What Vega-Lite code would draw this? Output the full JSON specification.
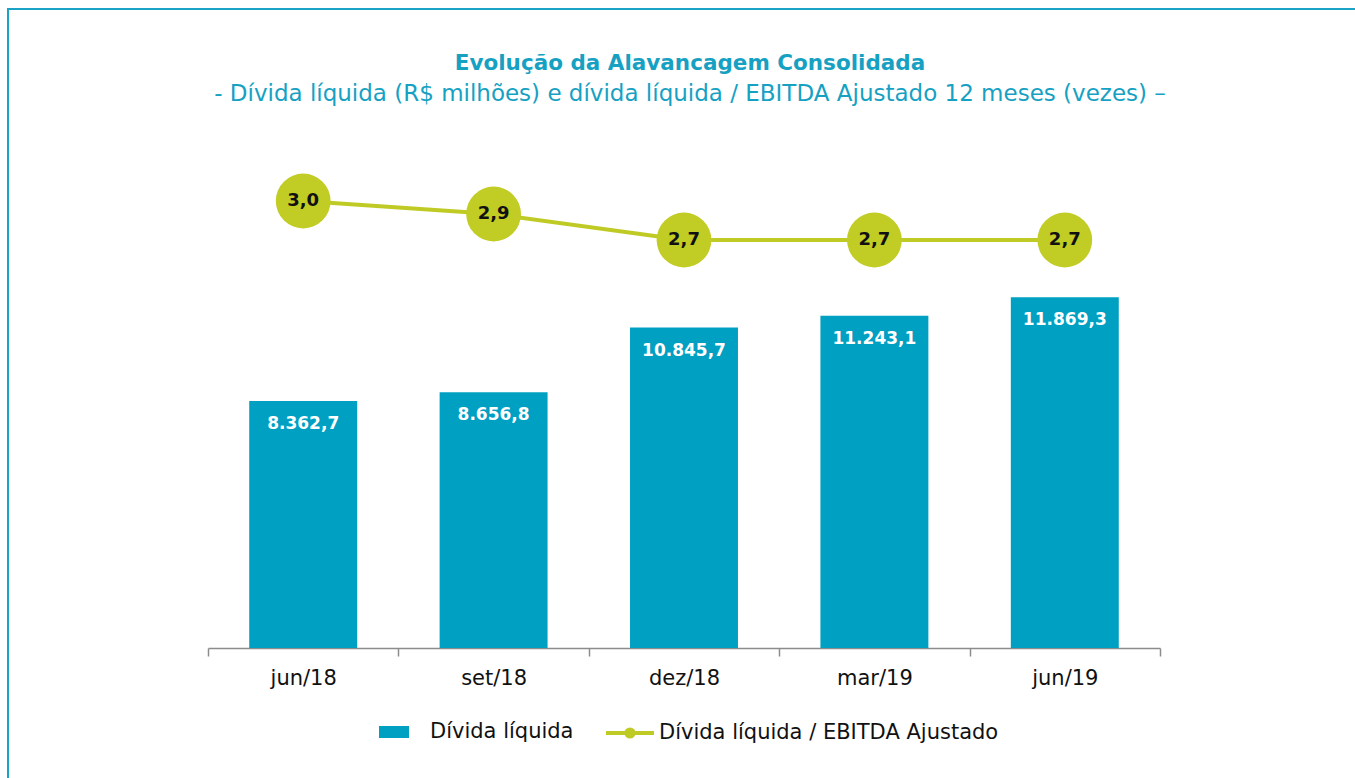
{
  "$schema": "https://vega.github.io/schema/vega-lite/v6.json",
  "autosize": {"type": "none"},
  "padding": {"left": 8, "top": 9, "right": 0, "bottom": 0},
  "width": 1350,
  "height": 772,
  "background": "white",
  "config": {
    "view": {"stroke": "#1AA3C4", "strokeWidth": 2},
    "locale": {"number": {"decimal": ",", "thousands": ".", "grouping": [3], "currency": ["R$", ""]}},
    "font": "DejaVu Sans"
  },
  "title": {
    "text": "Evolução da Alavancagem Consolidada",
    "subtitle": "- Dívida líquida (R$ milhões) e dívida líquida / EBITDA Ajustado 12 meses (vezes) –",
    "anchor": "middle",
    "frame": "group",
    "dx": 7,
    "offset": -97,
    "font": "DejaVu Sans",
    "fontSize": 21.5,
    "fontWeight": "bold",
    "color": "#16A1C3",
    "subtitleFont": "DejaVu Sans",
    "subtitleFontSize": 23,
    "subtitleColor": "#16A1C3",
    "subtitlePadding": 9
  },
  "data": {
    "values": [
      {"periodo": "jun/18", "divida": 8362.7, "alav": 3.0},
      {"periodo": "set/18", "divida": 8656.8, "alav": 2.9},
      {"periodo": "dez/18", "divida": 10845.7, "alav": 2.7},
      {"periodo": "mar/19", "divida": 11243.1, "alav": 2.7},
      {"periodo": "jun/19", "divida": 11869.3, "alav": 2.7}
    ]
  },
  "encoding": {
    "x": {
      "field": "periodo",
      "type": "nominal",
      "sort": null,
      "scale": {"range": [200, 1152], "paddingInner": 0, "paddingOuter": 0},
      "axis": {
        "title": null,
        "labelAngle": 0,
        "domainColor": "#8C8C8C",
        "domainWidth": 1.5,
        "tickColor": "#8C8C8C",
        "tickWidth": 1.5,
        "tickSize": 8,
        "tickBand": "extent",
        "labelFont": "DejaVu Sans",
        "labelFontSize": 21,
        "labelColor": "#111111",
        "labelPadding": 11,
        "grid": false,
        "offset": -133
      }
    }
  },
  "layer": [
    {
      "encoding": {
        "y": {
          "field": "divida",
          "type": "quantitative",
          "scale": {"domain": [0, 14000], "range": [639, 225.3]},
          "axis": null
        }
      },
      "layer": [
        {
          "mark": {"type": "bar", "width": {"band": 0.567}},
          "encoding": {
            "color": {
              "datum": "Dívida líquida",
              "scale": {"range": ["#00A0C3"]},
              "legend": {
                "title": null,
                "orient": "none",
                "legendX": 370,
                "legendY": 707,
                "symbolType": "M-1,-0.4H1V0.4H-1Z",
                "symbolSize": 900,
                "labelFont": "DejaVu Sans",
                "labelFontSize": 21,
                "labelColor": "#111111",
                "labelLimit": 0,
                "labelOffset": 20
              }
            }
          }
        },
        {
          "mark": {"type": "text", "color": "white", "fontWeight": "bold", "fontSize": 17, "font": "DejaVu Sans", "baseline": "middle", "dy": 23},
          "encoding": {
            "text": {"field": "divida", "type": "quantitative", "format": ",.1f"}
          }
        }
      ]
    },
    {
      "encoding": {
        "y": {
          "field": "alav",
          "type": "quantitative",
          "scale": {"domain": [2, 3], "range": [322, 192], "zero": false},
          "axis": null
        }
      },
      "layer": [
        {
          "mark": {"type": "line", "strokeWidth": 4},
          "encoding": {
            "stroke": {
              "datum": "Dívida líquida / EBITDA Ajustado",
              "scale": {"range": ["#BFCB24"]},
              "legend": {
                "title": null,
                "orient": "none",
                "legendX": 596,
                "legendY": 698,
                "symbolType": "M-1,0H1M-0.15,0A0.15,0.15 0 1,0 0.15,0A0.15,0.15 0 1,0 -0.15,0Z",
                "symbolSize": 2304,
                "symbolStrokeWidth": 4,
                "symbolFillColor": "#BFCB24",
                "labelFont": "DejaVu Sans",
                "labelFontSize": 21,
                "labelColor": "#111111",
                "labelLimit": 0,
                "labelOffset": 3
              }
            }
          }
        },
        {
          "mark": {"type": "circle", "size": 3000, "color": "#C1CC24", "opacity": 1}
        },
        {
          "mark": {"type": "text", "color": "#111111", "fontWeight": "bold", "fontSize": 18, "font": "DejaVu Sans", "baseline": "middle"},
          "encoding": {
            "text": {"field": "alav", "type": "quantitative", "format": ".1f"}
          }
        }
      ]
    }
  ],
  "resolve": {"scale": {"y": "independent"}}
}
